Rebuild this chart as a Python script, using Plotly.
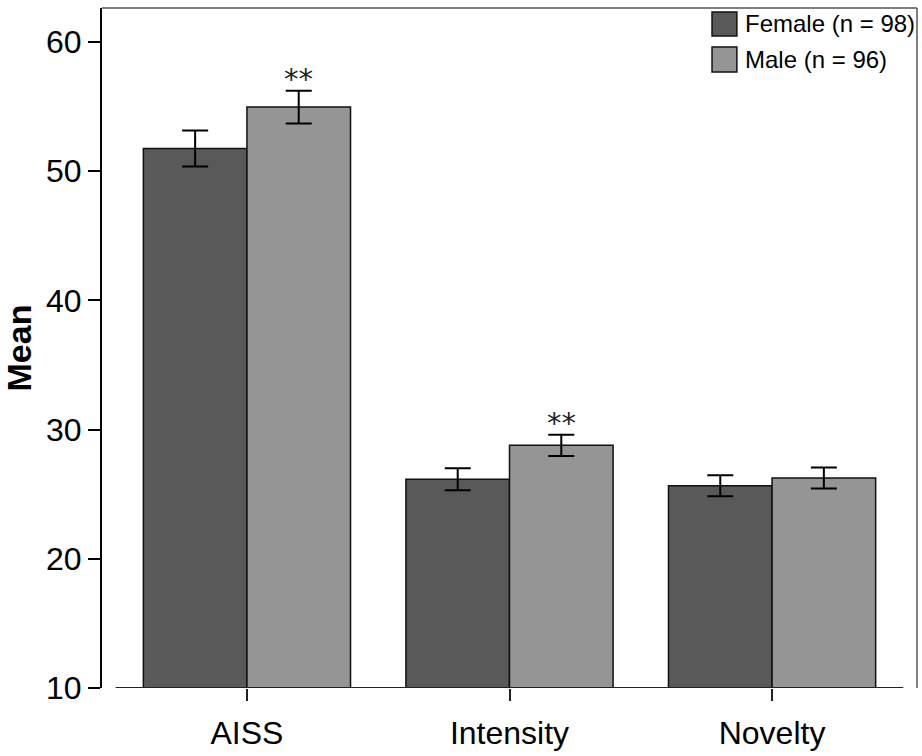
import plotly.graph_objects as go

categories = ["AISS", "Intensity", "Novelty"]
female_mean = [51.75, 26.15, 25.65]
female_err = [1.40, 0.85, 0.82]
male_mean = [54.95, 28.78, 26.25]
male_err = [1.27, 0.82, 0.81]
series_names = ["Female (n = 98)", "Male (n = 96)"]
significance = ["**", "**", ""]
y_ticks = [10, 20, 30, 40, 50, 60]

female_color = "#595959"
male_color = "#959595"
bargap = 0.211
x_pos = list(range(len(categories)))

fig = go.Figure()
for mean, err, color, name in [(female_mean, female_err, female_color, series_names[0]),
                               (male_mean, male_err, male_color, series_names[1])]:
    fig.add_trace(go.Bar(
        x=x_pos, y=mean, name=name,
        marker=dict(color=color, line=dict(color="#111111", width=1.5)),
        error_y=dict(type="data", array=err, color="black", thickness=2, width=13),
        showlegend=False,
    ))

offset = (1 - bargap) / 4
annotations = []
for i, s in enumerate(significance):
    if s:
        annotations.append(dict(
            x=x_pos[i] + offset, y=male_mean[i] + male_err[i], xref="x", yref="y",
            text=s, showarrow=False, yanchor="bottom", yshift=-7,
            font=dict(family="DejaVu Sans", size=29, color="#222"),
        ))

# custom legend
shapes = []
legend_rows = [(0.9941, 0.959, female_color), (0.9428, 0.906, male_color)]
for (y1, y0, c), name in zip(legend_rows, series_names):
    shapes.append(dict(type="rect", xref="paper", yref="paper",
                       x0=0.7485, x1=0.779, y0=y0, y1=y1,
                       fillcolor=c, line=dict(color="#111", width=1.5)))
    annotations.append(dict(x=0.786, y=(y0 + y1) / 2, xref="paper", yref="paper",
                            text=name, showarrow=False, xanchor="left", yanchor="middle",
                            font=dict(family="Liberation Sans, Arial", size=24, color="black")))

# frame top/right
shapes.append(dict(type="line", xref="paper", yref="paper", x0=0, x1=1, y0=1, y1=1,
                   line=dict(color="#555", width=1.5)))
shapes.append(dict(type="line", xref="paper", yref="paper", x0=1, x1=1, y0=0, y1=1,
                   line=dict(color="#555", width=1.5)))
# x axis baseline
shapes.append(dict(type="line", xref="x", yref="y", x0=-0.5, x1=len(categories) - 0.5,
                   y0=y_ticks[0], y1=y_ticks[0], line=dict(color="#222", width=2)))

fig.update_layout(
    barmode="group", bargap=bargap, bargroupgap=0,
    width=922, height=756,
    margin=dict(l=102, r=5, t=8, b=66),
    plot_bgcolor="white", paper_bgcolor="white",
    shapes=shapes, annotations=annotations,
    xaxis=dict(
        range=[-0.552, len(categories) - 1 + 0.552],
        tickvals=x_pos, ticktext=categories,
        ticks="outside", ticklen=12, tickwidth=1.5, tickcolor="#222",
        showline=False, showgrid=False, zeroline=False,
        ticklabelstandoff=5,
        tickfont=dict(family="Liberation Sans, Arial", size=32, color="black"),
    ),
    yaxis=dict(
        range=[10, 62.62],
        tickvals=y_ticks,
        ticks="outside", ticklen=12, tickwidth=1.5, tickcolor="black",
        showline=True, linecolor="black", linewidth=2,
        showgrid=False, zeroline=False,
        tickfont=dict(family="Liberation Sans, Arial", size=32, color="black"),
        title=dict(text="<b>Mean</b>", standoff=10,
                   font=dict(family="Liberation Sans, Arial", size=34, color="black")),
    ),
)

fig.write_html("out.html")
